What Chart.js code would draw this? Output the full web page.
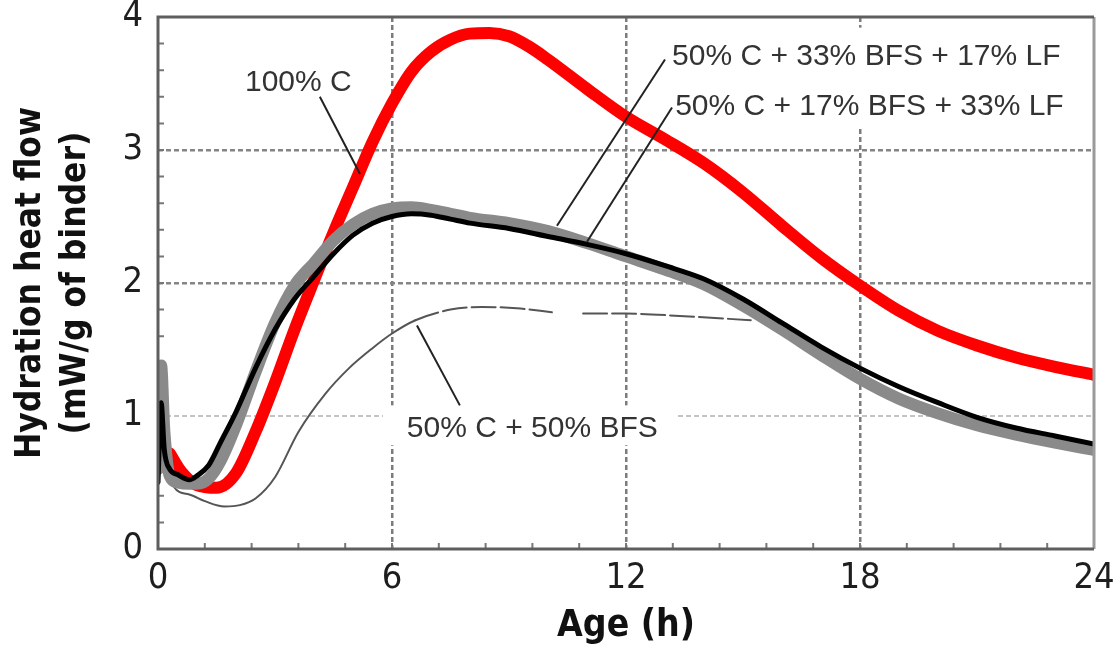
<!DOCTYPE html>
<html>
<head>
<meta charset="utf-8">
<script src="https://cdn.jsdelivr.net/npm/chart.js@4.4.0/dist/chart.umd.min.js"></script>
<style>
  html, body { margin: 0; padding: 0; background: #ffffff; }
  #wrap { width: 1116px; height: 655px; }
</style>
</head>
<body>
<div id="wrap"><canvas id="heat" width="1116" height="655"></canvas></div>
<script>
// Axis tick labels
const ageTicks = [0, 6, 12, 18, 24];
const flowTicks = [0, 1, 2, 3, 4];

// 100% C (red)
const age100C  = [0.3, 0.6, 1.0, 1.5, 2.0, 2.5, 3.0, 3.5, 4.0, 4.5, 5.0, 5.5, 6.0, 6.5, 7.0, 7.5, 8.0, 8.5, 9.0, 9.5, 10, 11, 12, 13, 14, 15, 16, 17, 18, 19, 20, 21, 22, 23, 24];
const flow100C = [0.72, 0.58, 0.48, 0.46, 0.57, 0.88, 1.25, 1.65, 2.02, 2.38, 2.72, 3.06, 3.35, 3.59, 3.74, 3.83, 3.875, 3.88, 3.855, 3.78, 3.68, 3.46, 3.25, 3.08, 2.9, 2.68, 2.43, 2.19, 1.98, 1.79, 1.64, 1.53, 1.44, 1.37, 1.31];

// Ternary blends (shared time base)
const ageTernary = [0, 0.08, 0.16, 0.3, 0.5, 0.8, 1.0, 1.3, 1.6, 2.0, 2.5, 3.0, 3.5, 4.0, 4.5, 5.0, 5.5, 6.0, 6.5, 7.0, 7.5, 8.0, 9.0, 10, 11, 12, 13, 14, 15, 16, 17, 18, 19, 20, 21, 22, 23, 24];
// 50% C + 33% BFS + 17% LF (grey)
const flowBfs33 = [0.6, 1.38, 0.9, 0.55, 0.5, 0.49, 0.49, 0.53, 0.66, 0.93, 1.33, 1.70, 1.98, 2.15, 2.32, 2.44, 2.52, 2.56, 2.57, 2.55, 2.52, 2.49, 2.45, 2.39, 2.3, 2.2, 2.1, 1.99, 1.83, 1.65, 1.46, 1.28, 1.13, 1.02, 0.93, 0.86, 0.8, 0.745];
// 50% C + 17% BFS + 33% LF (black)
const flowBfs17 = [0.5, 1.1, 0.75, 0.6, 0.56, 0.52, 0.55, 0.63, 0.8, 1.03, 1.36, 1.65, 1.88, 2.05, 2.22, 2.36, 2.45, 2.5, 2.52, 2.51, 2.48, 2.45, 2.41, 2.35, 2.29, 2.22, 2.13, 2.03, 1.88, 1.7, 1.52, 1.36, 1.22, 1.1, 0.99, 0.91, 0.85, 0.79];

// 50% C + 50% BFS (thin), null marks the break in the trace
const ageBfs50  = [0.2, 0.4, 0.8, 1.2, 1.7, 2.1, 2.5, 3.0, 3.6, 4.3, 4.9, 5.5, 6.0, 6.6, 7.5, 8.3, 9.2, 10.1, 10.5, 10.9, 12, 13.5, 15.2];
const flowBfs50 = [0.75, 0.47, 0.41, 0.36, 0.32, 0.33, 0.38, 0.54, 0.88, 1.17, 1.36, 1.51, 1.62, 1.72, 1.8, 1.82, 1.81, 1.78, null, 1.77, 1.77, 1.75, 1.72];

// Curve labels: text anchor, leader line and the white patch behind the text (data units)
const curveLabels = [
  { text: '100% C', at: [2.23, 3.44], leader: [[4.15, 3.40], [5.18, 2.82]] },
  { text: '50% C + 33% BFS + 17% LF', at: [13.18, 3.64], leader: [[13.0, 3.68], [10.23, 2.43]] },
  { text: '50% C + 17% BFS + 33% LF', at: [13.26, 3.26], leader: [[13.18, 3.32], [11.0, 2.31]] },
  { text: '50% C + 50% BFS', at: [6.38, 0.84], leader: [[6.64, 1.68], [7.74, 1.08]] }
];
const labelPatches = [
  [13.08, 3.92, 23.64, 3.17],
  [5.77, 1.08, 13.33, 0.78]
];

const toPoints = (xs, ys) => xs.map((x, i) => ({ x: x, y: ys[i] }));

const NARROW = "'Liberation Sans Narrow', 'Arial Narrow', 'DejaVu Sans Condensed', 'Liberation Sans', sans-serif";

const decorPlugin = {
  id: 'decor',
  beforeDatasetsDraw(chart) {
    const { ctx, chartArea: a, scales: { x, y } } = chart;
    ctx.save();
    // white patches under the curve labels
    ctx.fillStyle = '#ffffff';
    labelPatches.forEach(p => {
      const x0 = x.getPixelForValue(p[0]), y0 = y.getPixelForValue(p[1]);
      const x1 = x.getPixelForValue(p[2]), y1 = y.getPixelForValue(p[3]);
      ctx.fillRect(x0, y0, x1 - x0, y1 - y0);
    });
    // minor inward ticks on the bottom and left axes
    ctx.strokeStyle = '#777777';
    ctx.lineWidth = 2;
    ctx.beginPath();
    for (let i = 1; i < 20; i++) {
      const px = x.getPixelForValue(i * 1.2);
      ctx.moveTo(px, a.bottom);
      ctx.lineTo(px, a.bottom - 6);
    }
    for (let j = 1; j < 20; j++) {
      const py = y.getPixelForValue(j * 0.2);
      ctx.moveTo(a.left, py);
      ctx.lineTo(a.left + 6, py);
    }
    ctx.stroke();
    ctx.restore();
  },
  afterDatasetsDraw(chart) {
    const { ctx, chartArea: a, scales: { x, y } } = chart;
    ctx.save();
    // plot frame
    ctx.lineWidth = 3;
    ctx.strokeStyle = '#9a9a9a';
    ctx.beginPath();
    ctx.moveTo(a.right, a.top);
    ctx.lineTo(a.right, a.bottom);
    ctx.stroke();
    ctx.strokeStyle = '#5e5e5e';
    ctx.beginPath();
    ctx.moveTo(a.right, a.top);
    ctx.lineTo(a.left, a.top);
    ctx.lineTo(a.left, a.bottom);
    ctx.lineTo(a.right, a.bottom);
    ctx.stroke();
    // leader lines and curve names
    ctx.strokeStyle = '#222222';
    ctx.lineWidth = 2;
    ctx.fillStyle = '#333333';
    ctx.font = "30px 'Liberation Sans', Arial, sans-serif";
    ctx.textBaseline = 'alphabetic';
    ctx.textAlign = 'left';
    curveLabels.forEach(l => {
      ctx.beginPath();
      ctx.moveTo(x.getPixelForValue(l.leader[0][0]), y.getPixelForValue(l.leader[0][1]));
      ctx.lineTo(x.getPixelForValue(l.leader[1][0]), y.getPixelForValue(l.leader[1][1]));
      ctx.stroke();
      ctx.fillText(l.text, x.getPixelForValue(l.at[0]), y.getPixelForValue(l.at[1]));
    });
    ctx.restore();
  }
};

new Chart(document.getElementById('heat'), {
  type: 'scatter',
  data: {
    datasets: [
      {
        label: '50% C + 17% BFS + 33% LF',
        data: toPoints(ageTernary, flowBfs17),
        borderColor: '#000000', borderWidth: 5
      },
      {
        label: '50% C + 33% BFS + 17% LF',
        data: toPoints(ageTernary, flowBfs33),
        borderColor: '#8a8a8a', borderWidth: 12
      },
      {
        label: '100% C',
        data: toPoints(age100C, flow100C),
        borderColor: '#ff0000', borderWidth: 12
      },
      {
        label: '50% C + 50% BFS',
        data: toPoints(ageBfs50, flowBfs50),
        borderColor: '#555555', borderWidth: 2,
        spanGaps: false,
        segment: {
          borderDash: c => (c.p0.parsed.x >= 6.6 ? [24, 5] : undefined)
        }
      }
    ]
  },
  options: {
    responsive: false,
    animation: false,
    showLine: true,
    elements: {
      point: { radius: 0, hoverRadius: 0 },
      line: { cubicInterpolationMode: 'monotone', borderCapStyle: 'round', borderJoinStyle: 'round', fill: false }
    },
    layout: { padding: { left: 0, right: 22, top: 17, bottom: 0 } },
    plugins: { legend: { display: false }, tooltip: { enabled: false } },
    scales: {
      x: {
        type: 'linear', min: 0, max: 24,
        afterBuildTicks: s => { s.ticks = ageTicks.map(v => ({ value: v })); },
        afterFit: s => { s.height = 106; s.paddingLeft = 0; s.paddingRight = 0; },
        border: { display: false, dash: [5, 3] },
        grid: {
          drawTicks: false,
          lineWidth: 2.5,
          color: c => (c.tick && (c.tick.value === 0 || c.tick.value === 24) ? 'rgba(0,0,0,0)' : '#7c7c7c')
        },
        ticks: {
          padding: 8, color: '#1e1e1e', maxRotation: 0,
          font: { family: NARROW, size: 36 }
        },
        title: {
          display: true, text: 'Age (h)', color: '#111111',
          font: { family: NARROW, size: 37, weight: 'bold', lineHeight: 1.2 },
          padding: { top: 0, bottom: 6 }
        }
      },
      y: {
        type: 'linear', min: 0, max: 4,
        afterBuildTicks: s => { s.ticks = flowTicks.map(v => ({ value: v })); },
        afterFit: s => { s.width = 158; s.paddingTop = 0; s.paddingBottom = 0; },
        border: { display: false, dash: [5, 3] },
        grid: {
          drawTicks: false,
          lineWidth: c => (c.tick && c.tick.value === 1 ? 2 : 2.5),
          color: c => {
            if (!c.tick || c.tick.value === 0 || c.tick.value === 4) return 'rgba(0,0,0,0)';
            return c.tick.value === 1 ? '#c4c4c4' : '#858585';
          }
        },
        ticks: {
          padding: 15, color: '#1e1e1e',
          font: { family: NARROW, size: 36 }
        },
        title: {
          display: true, text: ['Hydration heat flow', '(mW/g of binder)'], color: '#111111',
          font: { family: NARROW, size: 35, weight: 'bold', lineHeight: 1.3 },
          padding: { top: 8, bottom: 0 }
        }
      }
    }
  },
  plugins: [decorPlugin]
});
</script>
</body>
</html>
